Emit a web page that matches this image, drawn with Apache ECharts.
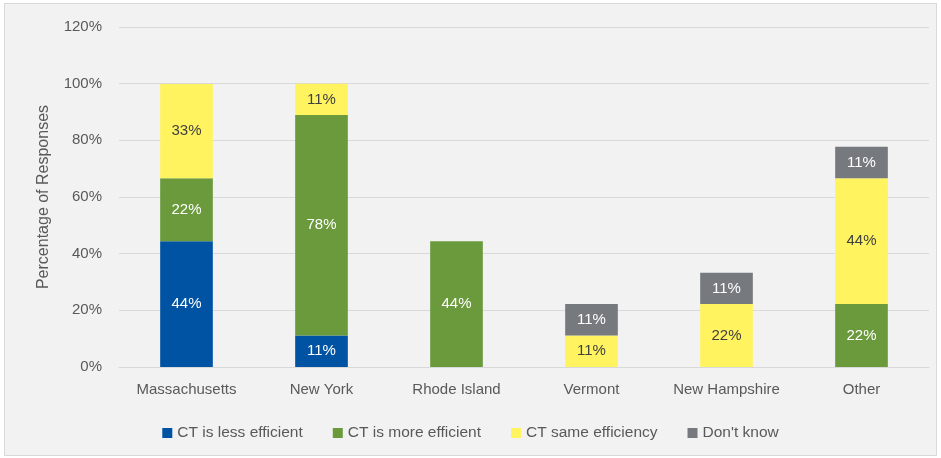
<!DOCTYPE html>
<html><head><meta charset="utf-8">
<script src="https://cdn.jsdelivr.net/npm/echarts@6/dist/echarts.min.js"></script>
<style>
html,body{margin:0;padding:0;background:#fff;}
#c{position:absolute;left:4px;top:3px;width:931px;height:451px;background:#f2f2f2;border:1px solid #d9d9d9;}
</style></head><body>
<div id="c"></div>
<script>
const categories = ['Massachusetts','New York','Rhode Island','Vermont','New Hampshire','Other'];
const lessEfficient = [44.4, 11.1, null, null, null, null];
const moreEfficient = [22.2, 77.8, 44.4, null, null, 22.2];
const sameEfficiency = [33.3, 11.1, null, 11.1, 22.2, 44.4];
const dontKnow = [null, null, null, 11.1, 11.1, 11.1];
const yTicks = [0,20,40,60,80,100,120];

const chart = echarts.init(document.getElementById('c'), null, {renderer:'canvas'});
const font = 'Liberation Sans, Arial, sans-serif';
function s(name, data, color, labelColor){
  return {name, type:'bar', stack:'a', data, barWidth:'39%',
    itemStyle:{color},
    label:{show:true, position:'inside', color:labelColor, fontFamily:font, fontSize:15,
      formatter:p=>p.value==null?'':Math.round(p.value)+'%'}};
}
chart.setOption({
  backgroundColor:'#f2f2f2',
  animation:false,
  textStyle:{fontFamily:font},
  grid:{left:114, right:7, top:23, bottom:88},
  legend:{bottom:9, left:'center', itemWidth:10, itemHeight:10, itemGap:30, icon:'rect',
    textStyle:{color:'#595959', fontSize:15.5, fontFamily:font}},
  xAxis:{type:'category', data:categories,
    axisLine:{lineStyle:{color:'#d9d9d9'}}, axisTick:{show:false},
    axisLabel:{color:'#595959', fontSize:15, margin:15, interval:0, fontFamily:font}},
  yAxis:{type:'value', min:0, max:120, interval:20,
    name:'Percentage of Responses', nameLocation:'middle', nameGap:67,
    nameTextStyle:{color:'#595959', fontSize:16, fontFamily:font},
    axisLine:{show:false}, axisTick:{show:false},
    splitLine:{lineStyle:{color:'#d9d9d9', width:1}},
    axisLabel:{color:'#595959', fontSize:15, margin:17, fontFamily:font,
      formatter:v=>yTicks.includes(v)?v+'%':''}},
  series:[
    s('CT is less efficient', lessEfficient, '#0052a3', '#ffffff'),
    s('CT is more efficient', moreEfficient, '#6a9a3c', '#ffffff'),
    s('CT same efficiency', sameEfficiency, '#fff35f', '#404040'),
    s("Don't know", dontKnow, '#767a7e', '#ffffff')
  ]
});
</script></body></html>
